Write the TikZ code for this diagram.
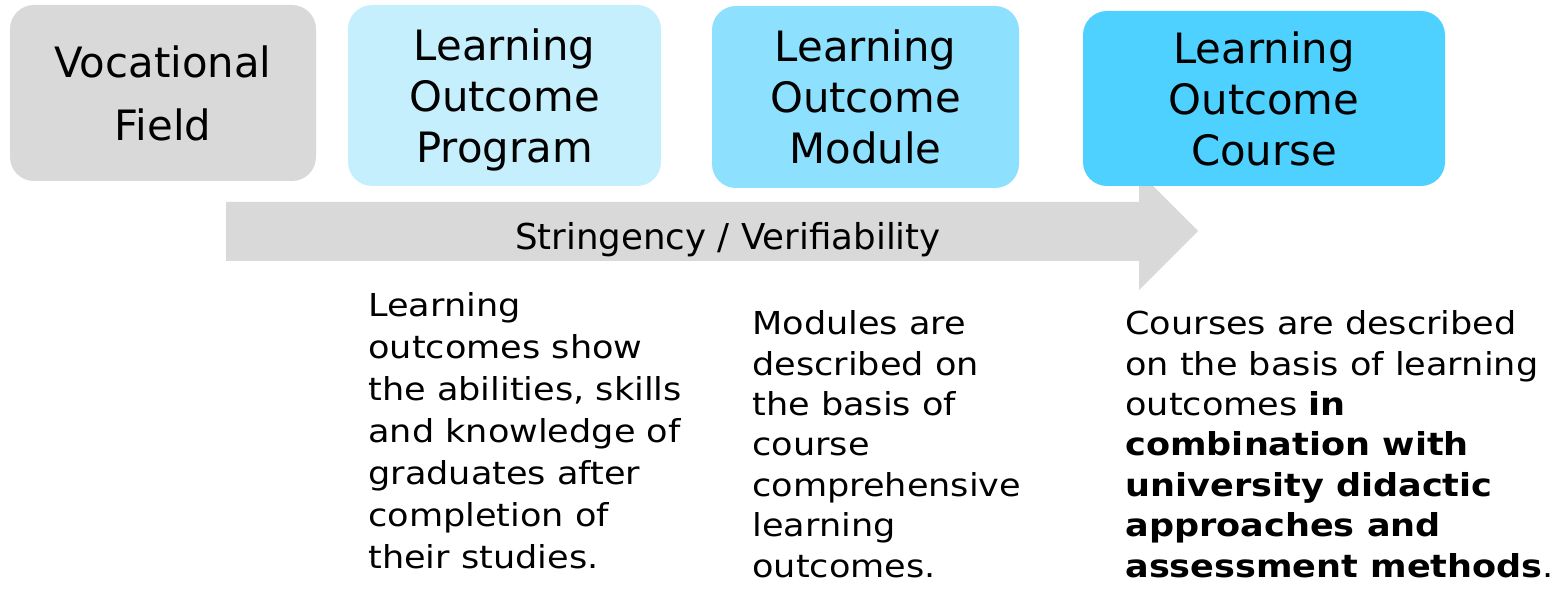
\documentclass[tikz,border=0pt]{standalone}
\usepackage{fontspec}
\setmainfont{DejaVu Sans}
\newfontfamily\descfont{DejaVu Sans}[FakeStretch=1.11]
\definecolor{fieldgray}{HTML}{D9D9D9}
\definecolor{progblue}{HTML}{C5EFFD}
\definecolor{modblue}{HTML}{8DE1FE}
\definecolor{courseblue}{HTML}{4ED1FF}

\begin{document}
\begin{tikzpicture}[x=0.5pt,y=-0.5pt,
	levelbox/.style={rounded corners=12pt, align=center, inner sep=0pt,
		text depth=0pt, font=\fontsize{20.9}{25.5}\selectfont},
	desctext/.style={anchor=base west, align=left, inner sep=0pt,
		font=\descfont\fontsize{15.8}{20.2}\selectfont}]
	\useasboundingbox (0,0) rectangle (1562,592);

	% the arrow, under the boxes
	\fill[fieldgray] (226,202) -- (1139,202) -- (1139,172) -- (1198,231)
		-- (1139,290) -- (1139,261) -- (226,261) -- cycle;
	\node (scale) at (728,250) [anchor=base,
		font=\fontsize{17.8}{22}\selectfont] {Stringency / Verifiability};

	% the four levels
	\node (field) at (163,93) [levelbox, fill=fieldgray,
		minimum width=153pt, minimum height=88pt,
		font=\fontsize{20.9}{31.5}\selectfont] {Vocational\\Field};
	\node (program) at (504.5,95.5) [levelbox, fill=progblue,
		minimum width=156.5pt, minimum height=90.5pt] {Learning\\Outcome\\Program};
	\node (module) at (865.5,97) [levelbox, fill=modblue,
		minimum width=153.5pt, minimum height=91pt] {Learning\\Outcome\\Module};
	\node (course) at (1264,98.5) [levelbox, fill=courseblue,
		minimum width=181pt, minimum height=87.5pt] {Learning\\Outcome\\Course};

	% descriptions (anchored at the last line)
	\node (progtext) at (368,568) [desctext,
		font=\descfont\fontsize{15.8}{21}\selectfont] {Learning\\outcomes show\\the abilities, skills\\and knowledge of\\graduates after\\completion of\\their studies.};
	\node (modtext) at (752,577) [desctext] {Modules are\\described on\\the basis of\\course\\comprehensive\\learning\\outcomes.};
	\node (coursetext) at (1125,577) [desctext] {Courses are described\\on the basis of learning\\outcomes \textbf{in}\\\textbf{combination with}\\\textbf{university didactic}\\\textbf{approaches and}\\\textbf{assessment methods}.};
\end{tikzpicture}
\end{document}
